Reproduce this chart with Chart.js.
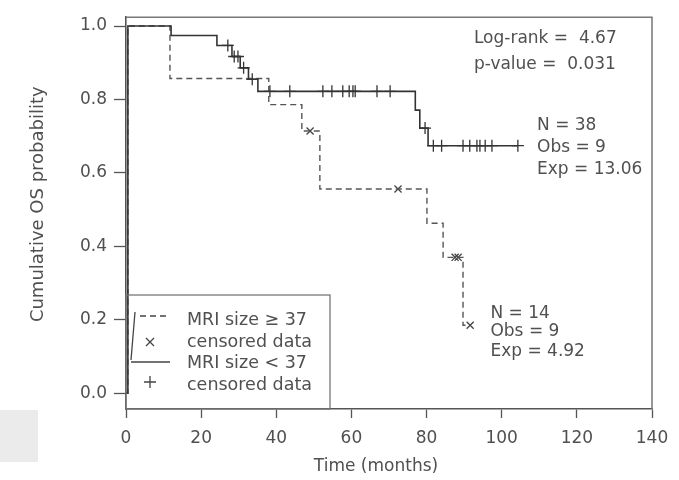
<!DOCTYPE html>
<html>
<head>
<meta charset="utf-8">
<script src="https://cdn.jsdelivr.net/npm/chart.js@4/dist/chart.umd.min.js"></script>
<style>
html, body { margin: 0; padding: 0; background: #fff; }
#wrap { position: relative; width: 679px; height: 480px; }
#chip { position: absolute; left: 0; top: 410px; width: 38px; height: 52px; background: #ebebeb; }
</style>
</head>
<body>
<div id="wrap">
  <canvas id="kmChart" width="679" height="480"></canvas>
  <div id="chip"></div>
</div>
<script>
// MRI size < 37 (N = 38): step times (months) and survival after each step
var smallTimes = [0, 0.5, 12, 24.2, 28.2, 30.4, 32.6, 35.1, 77, 78.2, 80.4, 104.3];
var smallSurv  = [0, 1.0, 0.974, 0.947, 0.917, 0.886, 0.855, 0.822, 0.771, 0.722, 0.674, 0.674];
var smallCensTimes = [27.1, 28.8, 29.8, 31.3, 33.6, 38.3, 43.6, 52.4, 54.8, 57.7, 59.4, 60.4, 61.0, 66.8, 70.3,
                      79.6, 81.8, 84.0, 89.7, 91.5, 93.4, 94.2, 95.6, 97.4, 104.3];
var smallCensSurv  = [0.947, 0.917, 0.917, 0.886, 0.855, 0.822, 0.822, 0.822, 0.822, 0.822, 0.822, 0.822, 0.822, 0.822, 0.822,
                      0.722, 0.674, 0.674, 0.674, 0.674, 0.674, 0.674, 0.674, 0.674, 0.674];

// MRI size >= 37 (N = 14)
var largeTimes = [0, 0.5, 11.7, 38, 46.8, 51.6, 80.1, 84.4, 89.7, 91.6];
var largeSurv  = [0, 1.0, 0.857, 0.786, 0.714, 0.556, 0.463, 0.370, 0.185, 0.185];
var largeCensTimes = [49.0, 72.4, 87.6, 88.4, 91.6];
var largeCensSurv  = [0.714, 0.556, 0.370, 0.370, 0.185];

var xTicks = [0, 20, 40, 60, 80, 100, 120, 140];
var yTicks = [0, 0.2, 0.4, 0.6, 0.8, 1.0];

function pairs(xs, ys) {
    return xs.map(function(x, i) { return { x: x, y: ys[i] }; });
}

var FONT = 'DejaVu Sans';
var TEXT = '#505050';
Chart.defaults.font.family = FONT;
Chart.defaults.color = TEXT;

// frame, axis titles, stats text and legend box drawn on top of the plot
var extras = {
    id: 'extras',
    afterDraw: function(chart) {
        var c = chart.ctx, a = chart.chartArea;
        var xs = chart.scales.x, ys = chart.scales.y;
        c.save();
        c.strokeStyle = '#777';
        c.lineWidth = 1.5;
        c.beginPath();
        c.moveTo(a.left, a.top);
        c.lineTo(a.right, a.top);
        c.lineTo(a.right, a.bottom);
        c.stroke();

        // axis titles
        c.fillStyle = TEXT;
        c.textAlign = 'center';
        c.textBaseline = 'middle';
        c.font = '17px "' + FONT + '"';
        c.fillText('Time (months)', a.left + 250, a.bottom + 58);
        c.save();
        c.translate(38, a.top + 187);
        c.rotate(-Math.PI / 2);
        c.font = '18px "' + FONT + '"';
        c.fillText('Cumulative OS probability', 0, 0);
        c.restore();

        c.textAlign = 'left';
        c.font = '17px "' + FONT + '"';
        var notes = [
            ['Log-rank =  4.67', 92.6, 0.965],
            ['p-value =  0.031', 92.6, 0.895],
            ['N = 38', 109.4, 0.728],
            ['Obs = 9', 109.4, 0.668],
            ['Exp = 13.06', 109.4, 0.610],
            ['N = 14', 97, 0.218],
            ['Obs = 9', 97, 0.167],
            ['Exp = 4.92', 97, 0.113]
        ];
        notes.forEach(function(n) {
            c.fillText(n[0], xs.getPixelForValue(n[1]), ys.getPixelForValue(n[2]));
        });

        // legend
        var L = a.left, T = 295, R = 330, B = a.bottom;
        c.strokeStyle = '#777';
        c.lineWidth = 1.3;
        c.strokeRect(L, T, R - L, B - T);
        c.strokeStyle = '#444';
        c.lineWidth = 1.3;
        c.setLineDash([6, 4]);
        c.beginPath(); c.moveTo(140, 316); c.lineTo(170, 316); c.stroke();
        c.setLineDash([]);
        c.beginPath(); c.moveTo(131, 362); c.lineTo(170, 362); c.stroke();
        c.beginPath(); c.moveTo(135, 312); c.lineTo(131, 360); c.stroke();
        c.beginPath();
        c.moveTo(146, 338); c.lineTo(154, 346);
        c.moveTo(154, 338); c.lineTo(146, 346);
        c.moveTo(150, 376); c.lineTo(150, 388);
        c.moveTo(144, 382); c.lineTo(156, 382);
        c.stroke();
        c.font = '17.5px "' + FONT + '"';
        c.fillText('MRI size \u2265 37', 187, 320);
        c.fillText('censored data', 187, 342);
        c.fillText('MRI size < 37', 187, 363);
        c.fillText('censored data', 187, 385);
        c.restore();
    }
};

window.onload = function() {
    var ctx = document.getElementById('kmChart').getContext('2d');
    new Chart(ctx, {
        type: 'line',
        data: {
            datasets: [{
                label: 'MRI size < 37',
                data: pairs(smallTimes, smallSurv),
                stepped: 'before',
                borderColor: '#333',
                borderWidth: 1.6,
                pointRadius: 0,
                fill: false
            }, {
                label: 'MRI size \u2265 37',
                data: pairs(largeTimes, largeSurv),
                stepped: 'before',
                borderColor: '#555',
                borderWidth: 1.4,
                borderDash: [6, 4],
                pointRadius: 0,
                fill: false
            }, {
                type: 'scatter',
                label: 'censored (< 37)',
                data: pairs(smallCensTimes, smallCensSurv),
                pointStyle: 'cross',
                pointRadius: 6,
                borderColor: '#333',
                borderWidth: 1.3,
                showLine: false
            }, {
                type: 'scatter',
                label: 'censored (\u2265 37)',
                data: pairs(largeCensTimes, largeCensSurv),
                pointStyle: 'crossRot',
                pointRadius: 5,
                borderColor: '#444',
                borderWidth: 1.3,
                showLine: false
            }]
        },
        options: {
            responsive: false,
            animation: false,
            layout: { padding: { top: 13, right: 27, left: 0, bottom: 0 } },
            plugins: {
                legend: { display: false },
                tooltip: { enabled: false }
            },
            scales: {
                x: {
                    type: 'linear',
                    min: 0,
                    max: 140,
                    afterBuildTicks: function(scale) {
                        scale.ticks = xTicks.map(function(v) { return { value: v }; });
                    },
                    afterFit: function(scale) { scale.height = 71; },
                    ticks: { font: { size: 17 }, color: TEXT, padding: 10, maxRotation: 0 },
                    grid: { drawOnChartArea: false, tickLength: 9, tickColor: '#555', tickWidth: 1.3 },
                    border: { color: '#555', width: 1.6 }
                },
                y: {
                    min: -0.043,
                    max: 1.024,
                    afterBuildTicks: function(scale) {
                        scale.ticks = yTicks.map(function(v) { return { value: v }; });
                    },
                    afterFit: function(scale) { scale.width = 126; },
                    ticks: {
                        font: { size: 17 },
                        color: TEXT,
                        padding: 7,
                        callback: function(v) { return v.toFixed(1); }
                    },
                    grid: { drawOnChartArea: false, tickLength: 12, tickColor: '#555', tickWidth: 1.3 },
                    border: { color: '#555', width: 1.6 }
                }
            }
        },
        plugins: [extras]
    });
};
</script>
</body>
</html>
